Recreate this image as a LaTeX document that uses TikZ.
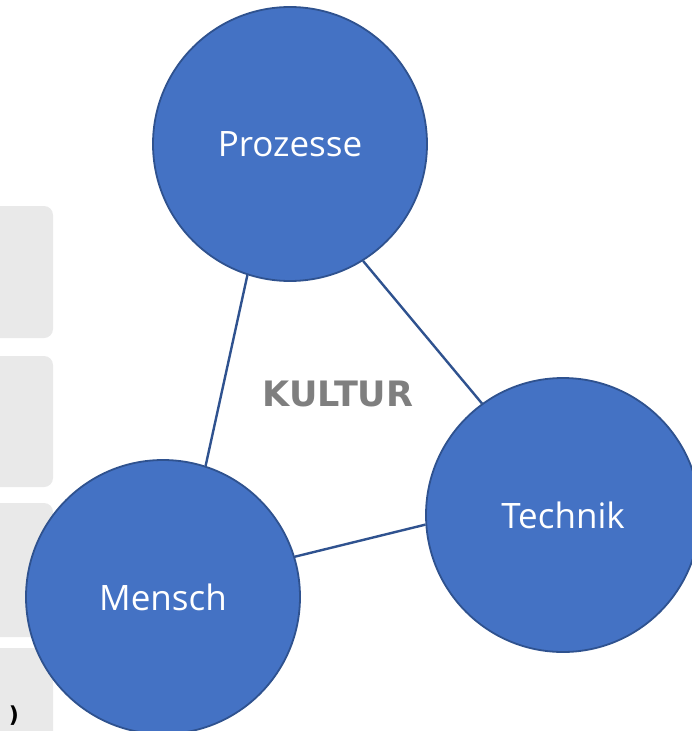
\documentclass[tikz,border=0pt]{standalone}
\usepackage{fontspec}
\newfontfamily\circfont{Open Sans}
\newfontfamily\kfont{DejaVu Sans}
\definecolor{cfill}{HTML}{4472C4}
\definecolor{cline}{HTML}{2F528F}
\definecolor{boxgray}{HTML}{E9E9E9}
\definecolor{kgray}{HTML}{7F7F7F}
\begin{document}
\begin{tikzpicture}[x=1pt,y=-1pt,
  bigcircle/.style={circle,draw=cline,fill=cfill,line width=1.8pt,minimum size=274pt,inner sep=0pt,text=white,font=\circfont\fontsize{35}{40}\selectfont},
  conn/.style={draw=cline,line width=2.4pt},
  sidebox/.style={fill=boxgray,rounded corners=9pt}]
\useasboundingbox (0,0) rectangle (692,731);
\clip (0,0) rectangle (692,731);
\fill[white] (0,0) rectangle (692,731);
% left boxes
\path[sidebox] (-30,206) rectangle (53,338);
\path[sidebox] (-30,356) rectangle (53,487);
\path[sidebox] (-30,503) rectangle (53,637);
\path[sidebox] (-30,648) rectangle (53,760);
\node[font=\kfont\bfseries\fontsize{22}{26}\selectfont,anchor=center,inner sep=0pt] (paren) at (14,716) {)};
% circles and connectors
\node[bigcircle] (proz) at (290,144) {Prozesse};
\node[bigcircle] (tech) at (563,515) {Technik};
\node[bigcircle] (mensch) at (163,597) {Mensch};
\draw[conn] (proz.252) -- (mensch.72);
\draw[conn] (proz.302) -- (tech.126.5);
\draw[conn] (mensch.17.6) -- (tech.184);
\node[font=\kfont\bfseries\fontsize{35}{40}\selectfont,text=kgray] (kultur) at (338,394) {KULTUR};
\end{tikzpicture}
\end{document}
